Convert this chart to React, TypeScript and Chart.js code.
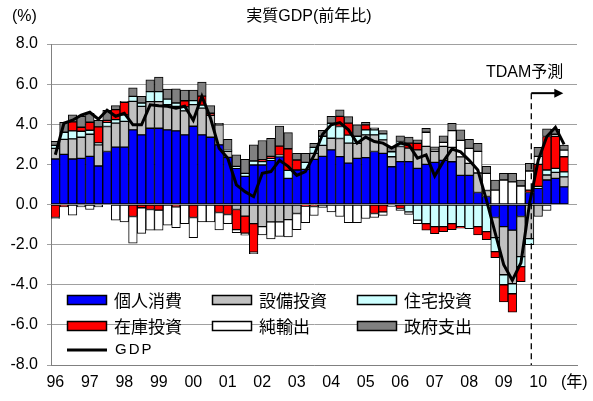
import React, { useEffect, useRef } from 'react';
import { Chart, registerables } from 'chart.js';

Chart.register(...registerables);

// ---- data ----
const YEAR_LABELS = ['96', '97', '98', '99', '00', '01', '02', '03', '04', '05', '06', '07', '08', '09', '10'];

const consumption = [
  2.27, 2.5, 2.27, 2.3, 2.4, 1.92, 2.64, 2.86, 2.86, 3.72,
  3.47, 3.8, 3.8, 3.72, 3.67, 3.47, 3.9, 3.47, 3.35, 2.97,
  2.35, 1.8, 1.4, 1.97, 1.97, 2.2, 2.38, 1.3, 1.72, 1.75,
  2.25, 2.4, 2.72, 2.39, 2.06, 2.3, 2.34, 2.64, 2.55, 1.88,
  2.14, 2.14, 1.8, 2.0, 2.1, 2.2, 2.13, 1.45, 1.45, 0.6,
  0.4, -0.65, -1.1, -1.28, -0.6, 0.6, 0.8, 1.22, 1.3, 0.88,
];
const equipment = [
  0.53, 0.75, 1.0, 1.05, 1.1, 1.05, 1.25, 1.2, 1.28, 1.42,
  1.42, 1.33, 1.33, 1.25, 1.22, 1.2, 1.08, 1.33, 1.1, 1.0,
  0.3, -0.25, -0.58, -0.95, -1.1, -0.87, -0.87, -0.75, -0.45, 0,
  0.3, 0.55, 0.58, 0.9, 1.0, 0.75, 1.13, 0.83, 0.67, 0.5,
  0.75, 0.67, 0.92, 0.9, 0.55, 0.7, 0.72, 0.92, 0.6, 0.97,
  0.3, -1.0, -2.4, -2.67, -2.0, -1.7, -0.6, 0.25, 0.3, 0.5,
];
const housing = [
  0.15, 0.35, 0.4, 0.3, 0.2, 0.1, 0.2, 0.17, 0.33, 0.25,
  0.17, 0.5, 0.5, 0.28, 0.17, 0.2, 0.2, 0.15, 0, 0,
  0.05, 0.1, 0.15, 0.2, 0.17, 0.1, 0.08, 0.4, 0, 0.35,
  0.3, 0.45, 0.75, 0.6, 0.4, 0.35, 0.25, 0.25, 0.3, 0.25,
  0.25, -0.37, -0.78, -0.95, -1.1, -1.1, -0.95, -1.1, -1.2, -1.1,
  -1.35, -0.7, -0.5, -0.5, -0.5, -0.3, 0.1, 0.25, 0.2, 0.25,
];
const inventory = [
  -0.65, -0.12, 0.45, 0.2, 0.4, 0.8, 0.1, 0.5, 0.62, -0.6,
  -0.16, -0.25, -0.28, 0, -0.12, 0.3, -0.65, 0.45, 0.1, -0.4,
  -0.5, -1.0, -0.85, -1.42, 0.1, 0.1, 0.45, 1.08, 0.5, -0.08,
  -0.1, 0, 0, 0.5, 0.6, 0, 0.25, -0.45, -0.37, 0,
  -0.2, 0.25, 0.33, -0.33, -0.35, -0.25, -0.3, -0.08, 0, -0.42,
  -0.4, -0.3, -0.86, -0.92, -0.75, 0.12, 1.1, 1.67, 1.6, 0.75,
];
const netExports = [
  -0.05, 0, -0.53, -0.12, -0.25, -0.12, 0, -0.78, -0.87, -1.33,
  -1.28, -1.03, -1.0, -1.03, -1.03, -0.95, -1.0, -0.87, -0.87, -0.87,
  -0.45, -0.15, -0.1, -0.08, -0.42, -0.85, -0.72, -0.87, -0.8, -0.83,
  -0.45, -0.15, -0.37, -0.6, -0.9, -0.9, -0.7, -0.2, -0.17, -0.1,
  -0.1, -0.13, -0.17, 0.7, 0.05, 0.2, 0.83, 0.83, 0.75, 1.08,
  0.85, 0.72, 1.22, 1.13, 0.92, 0.95, 0.4, -0.3, 0.1, 0.33,
];
const government = [
  0.2, 0.5, 0.35, 0.55, 0.45, 0.33, 0.5, 0.2, 0.05, 0.42,
  0.33, 0.58, 0.72, 0.5, 0.7, 0.53, 0.52, 0.7, 0.38, 0.08,
  0.55, 0.57, 0.7, 0.8, 0.95, 0.9, 1.0, 0.8, 0.33, 0.45,
  0.2, 0.3, 0.35, 0.33, 0.32, 0.57, 0.12, 0.1, 0.17, 0.25,
  0.28, 0.3, 0.17, 0.2, 0.17, 0.32, 0.37, 0.52, 0.45, 0.4,
  0.35, 0.5, 0.33, 0.42, 0.3, 0.38, 0.45, 0.38, 0.25, 0.25,
];
const gdp = [
  2.48, 4.05, 4.2, 4.45, 4.6, 4.25, 4.7, 4.4, 4.55, 3.97,
  3.97, 4.97, 4.92, 4.9, 4.8, 4.9, 4.2, 5.4, 4.3, 2.8,
  2.3, 0.98, 0.64, 0.39, 1.56, 1.64, 2.2, 1.9, 1.45, 1.64,
  2.45, 3.5, 3.97, 4.08, 3.72, 3.06, 3.36, 3.14, 3.06, 2.81,
  3.06, 2.97, 2.31, 2.47, 1.42, 2.15, 2.76, 2.62, 2.2, 1.72,
  0.22, -1.4, -3.0, -3.78, -2.9, 0.05, 2.2, 3.39, 3.85, 3.0,
];

const SERIES_NAMES = ['個人消費', '設備投資', '住宅投資', '在庫投資', '純輸出', '政府支出'];
const SERIES_COLORS = ['#0000ff', '#c0c0c0', '#ccffff', '#ff0000', '#ffffff', '#808080'];
const Y_TICKS = [-8, -6, -4, -2, 0, 2, 4, 6, 8];

// categories: quarters 1996Q1 .. 2010Q4 plus one empty slot
const CATEGORIES: string[] = [];
YEAR_LABELS.forEach((y) => {
  for (let q = 1; q <= 4; q++) CATEGORIES.push(`${y}Q${q}`);
});
CATEGORIES.push('11Q1');

const FORECAST_INDEX = 55.2; // forecast divider, in category units
const ARROW_LEVEL = 5.55; // arrow height, in value units

const NUM_FONT = "'Liberation Sans', 'Noto Sans CJK JP', sans-serif";
const JP_FONT = "'Noto Sans CJK JP', 'Liberation Sans', sans-serif";

const clean = (arr: number[]) => arr.map((v) => (v === 0 ? null : v));

const decorPlugin = {
  id: 'decor',
  afterDatasetsDraw(chart: any) {
    const { ctx, chartArea, scales } = chart;
    const xs = scales.x;
    const ys = scales.y;
    const p0 = xs.getPixelForValue(Math.floor(FORECAST_INDEX));
    const p1 = xs.getPixelForValue(Math.floor(FORECAST_INDEX) + 1);
    const x = p0 + (p1 - p0) * (FORECAST_INDEX - Math.floor(FORECAST_INDEX));
    const ay = ys.getPixelForValue(ARROW_LEVEL);
    ctx.save();
    // dashed divider
    ctx.strokeStyle = '#000';
    ctx.lineWidth = 1.3;
    ctx.setLineDash([6, 4]);
    ctx.beginPath();
    ctx.moveTo(x, ay);
    ctx.lineTo(x, chartArea.bottom);
    ctx.stroke();
    ctx.setLineDash([]);
    // arrow
    const ax2 = x + 32;
    ctx.lineWidth = 2;
    ctx.beginPath();
    ctx.moveTo(x, ay);
    ctx.lineTo(ax2 - 6, ay);
    ctx.stroke();
    ctx.fillStyle = '#000';
    ctx.beginPath();
    ctx.moveTo(ax2, ay);
    ctx.lineTo(ax2 - 9, ay - 4.5);
    ctx.lineTo(ax2 - 9, ay + 4.5);
    ctx.closePath();
    ctx.fill();
    // forecast label
    ctx.font = `16px ${NUM_FONT}`;
    ctx.textAlign = 'right';
    ctx.textBaseline = 'middle';
    ctx.fillText('TDAM予測', ax2, ay - 21);
    ctx.restore();
  },
  afterDraw(chart: any) {
    const { ctx, chartArea } = chart;
    ctx.save();
    ctx.fillStyle = '#000';
    ctx.textBaseline = 'middle';
    // title
    ctx.font = `16px ${NUM_FONT}`;
    ctx.textAlign = 'center';
    ctx.fillText('実質GDP(前年比)', 309, 17);
    // unit labels
    ctx.textAlign = 'left';
    ctx.fillText('(%)', 12, 17);
    ctx.fillText('(年)', 561, chartArea.bottom + 18);
    // legend
    const colX = [16, 161, 306].map((d) => chartArea.left + d);
    const rowY = [256, 282].map((d) => chartArea.top + d);
    const ds = chart.data.datasets;
    for (let i = 0; i < 6; i++) {
      const d = ds[i + 1];
      const sx = colX[i % 3];
      const sy = rowY[Math.floor(i / 3)];
      ctx.fillStyle = d.backgroundColor;
      ctx.fillRect(sx, sy - 5, 40, 10);
      ctx.strokeStyle = '#000';
      ctx.lineWidth = 1.5;
      ctx.strokeRect(sx + 0.5, sy - 5 + 0.5, 39, 9);
      ctx.fillStyle = '#000';
      ctx.font = `17px ${JP_FONT}`;
      ctx.textAlign = 'left';
      ctx.fillText(d.label, sx + 47, sy + 1);
    }
    const gy = chartArea.top + 306;
    ctx.strokeStyle = '#000';
    ctx.lineWidth = 3;
    ctx.beginPath();
    ctx.moveTo(colX[0], gy);
    ctx.lineTo(colX[0] + 40, gy);
    ctx.stroke();
    ctx.font = `15px ${NUM_FONT}`;
    try {
      (ctx as any).letterSpacing = '2px';
    } catch (e) {}
    ctx.fillText(ds[0].label, colX[0] + 48, gy);
    try {
      (ctx as any).letterSpacing = '0px';
    } catch (e) {}
    ctx.restore();
  },
};

export default function App() {
  const canvasRef = useRef<HTMLCanvasElement | null>(null);

  useEffect(() => {
    const canvas = canvasRef.current;
    if (!canvas) return;
    const seriesData = [consumption, equipment, housing, inventory, netExports, government];
    const barSets = seriesData.map((arr, i) => ({
      type: 'bar' as const,
      label: SERIES_NAMES[i],
      data: clean(arr),
      backgroundColor: SERIES_COLORS[i],
      borderColor: '#000000',
      borderWidth: 1,
      borderSkipped: false,
      barPercentage: 1,
      categoryPercentage: 1,
      order: 1,
    }));
    const chart = new Chart(canvas, {
      type: 'bar',
      data: {
        labels: CATEGORIES,
        datasets: [
          {
            type: 'line' as const,
            label: 'GDP',
            data: gdp,
            borderColor: '#000000',
            backgroundColor: '#000000',
            borderWidth: 3,
            pointRadius: 0,
            fill: false,
            tension: 0,
            order: 0,
          } as any,
          ...barSets,
        ],
      },
      options: {
        animation: false,
        responsive: false,
        devicePixelRatio: 1,
        layout: { padding: { top: 44, right: 16, left: 0, bottom: 0 } },
        plugins: {
          legend: { display: false },
          title: { display: false },
          tooltip: { enabled: false },
        },
        scales: {
          x: {
            stacked: true,
            grid: { display: false, drawTicks: false },
            border: { display: true, color: '#808080', width: 1 },
            ticks: {
              autoSkip: false,
              maxRotation: 0,
              minRotation: 0,
              padding: 8,
              color: '#000',
              font: { family: NUM_FONT, size: 16 },
              callback: (_v: any, i: number) => (i % 4 === 0 && YEAR_LABELS[i / 4] ? YEAR_LABELS[i / 4] : ''),
            },
            afterFit: (s: any) => {
              s.height = 36;
            },
          },
          y: {
            stacked: true,
            min: Y_TICKS[0],
            max: Y_TICKS[Y_TICKS.length - 1],
            afterBuildTicks: (s: any) => {
              s.ticks = Y_TICKS.map((v) => ({ value: v }));
            },
            ticks: {
              padding: 9,
              color: '#000',
              font: { family: NUM_FONT, size: 16 },
              callback: (v: any) => Number(v).toFixed(1),
            },
            grid: { color: '#a0a0a0', tickLength: 4, drawTicks: true, lineWidth: 1 },
            border: { display: true, color: '#808080', width: 1 },
            afterFit: (s: any) => {
              s.width = 51;
            },
          },
        },
      } as any,
      plugins: [decorPlugin],
    });
    return () => chart.destroy();
  }, []);

  return (
    <div style={{ position: 'fixed', left: 0, top: 0, width: 593, height: 401, background: '#fff' }}>
      <canvas ref={canvasRef} width={593} height={401} style={{ display: 'block', width: 593, height: 401 }} />
    </div>
  );
}
